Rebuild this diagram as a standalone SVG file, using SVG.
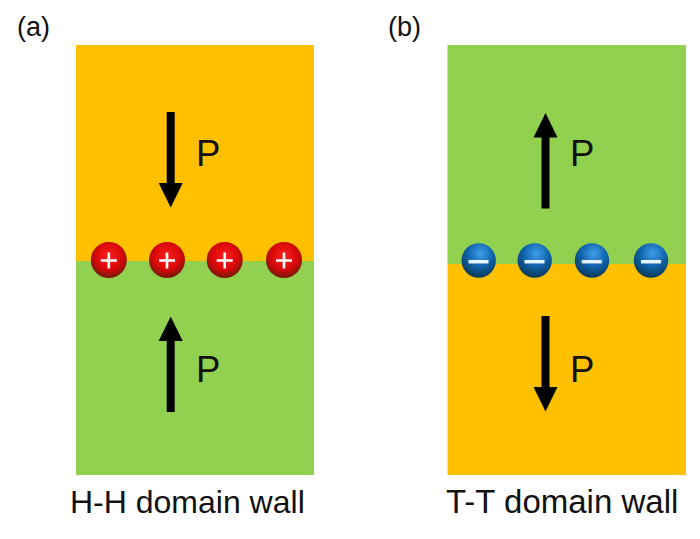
<svg xmlns="http://www.w3.org/2000/svg" width="700" height="539" viewBox="0 0 700 539">
<style>
text{font-family:"Liberation Sans",Arial,sans-serif;fill:#111}
.o{fill:#ffc000}.g{fill:#92d050}
.lab{font-size:27px}.p{font-size:36.500px}.cap{font-size:32px}.cap2{font-size:33px}
.s{fill:none;stroke:#fff;stroke-width:2.600;stroke-linecap:butt}
.m{fill:none;stroke:#e8f4fa;stroke-width:3.500}
.a{fill:#000}
</style>
<defs>
<radialGradient id="red" cx="50%" cy="40%" r="58%"><stop offset="0" stop-color="#ff2020"/><stop offset=".65" stop-color="#d80808"/><stop offset="1" stop-color="#7a1a08"/></radialGradient>
<radialGradient id="blue" cx="55%" cy="30%" r="68%"><stop offset="0" stop-color="#3f9fe8"/><stop offset=".55" stop-color="#0f63ab"/><stop offset="1" stop-color="#0b3c5e"/></radialGradient>
<path id="down" class="a" d="M-4-48H4V23H12L0 47.500-12 23H-4Z"/>
</defs>
<rect width="700" height="539" fill="#fff"/>
<g id="panel-a">
<rect class="o" x="76" y="45" width="238" height="216"/>
<rect class="g" x="76" y="261" width="238" height="214"/>
<text class="lab" x="17" y="36">(a)</text>
<use href="#down" x="170.700" y="160"/>
<text class="p" x="196" y="166">P</text>
<use href="#down" transform="translate(170.700 364) scale(1 -1)"/>
<text class="p" x="196" y="382">P</text>
<text class="cap" x="70" y="513">H-H domain wall</text>
</g>
<g id="panel-b">
<rect class="g" x="447.500" y="45" width="238.500" height="219"/>
<rect class="o" x="447.500" y="264" width="238.500" height="211"/>
<text class="lab" x="388" y="36">(b)</text>
<use href="#down" transform="translate(545.500 160.500) scale(1 -1)"/>
<text class="p" x="570" y="166">P</text>
<use href="#down" x="545.500" y="364"/>
<text class="p" x="570" y="382">P</text>
<text class="cap2" x="446" y="513">T-T domain wall</text>
</g>
<g id="charge-p1"><circle cx="108.800" cy="260" r="18" fill="url(#red)"/><path class="s" d="M100.800 260.500H116.800M108.800 252.500V268.500"/></g>
<g id="charge-p2"><circle cx="167" cy="260" r="18" fill="url(#red)"/><path class="s" d="M159 260.500H175M167 252.500V268.500"/></g>
<g id="charge-p3"><circle cx="224.700" cy="260" r="18" fill="url(#red)"/><path class="s" d="M216.700 260.500H232.700M224.700 252.500V268.500"/></g>
<g id="charge-p4"><circle cx="284" cy="260" r="18" fill="url(#red)"/><path class="s" d="M276 260.500H292M284 252.500V268.500"/></g>
<g id="charge-n1"><circle cx="478.700" cy="260.500" r="17.200" fill="url(#blue)"/><path class="m" d="M468.500 261.700H488.500"/></g>
<g id="charge-n2"><circle cx="534.700" cy="260.500" r="17.200" fill="url(#blue)"/><path class="m" d="M524.500 261.700H544.500"/></g>
<g id="charge-n3"><circle cx="592" cy="260.500" r="17.200" fill="url(#blue)"/><path class="m" d="M581.800 261.700H601.800"/></g>
<g id="charge-n4"><circle cx="651" cy="260.500" r="17.200" fill="url(#blue)"/><path class="m" d="M641 261.700H661"/></g>
<g id="connectors"></g>
</svg>
